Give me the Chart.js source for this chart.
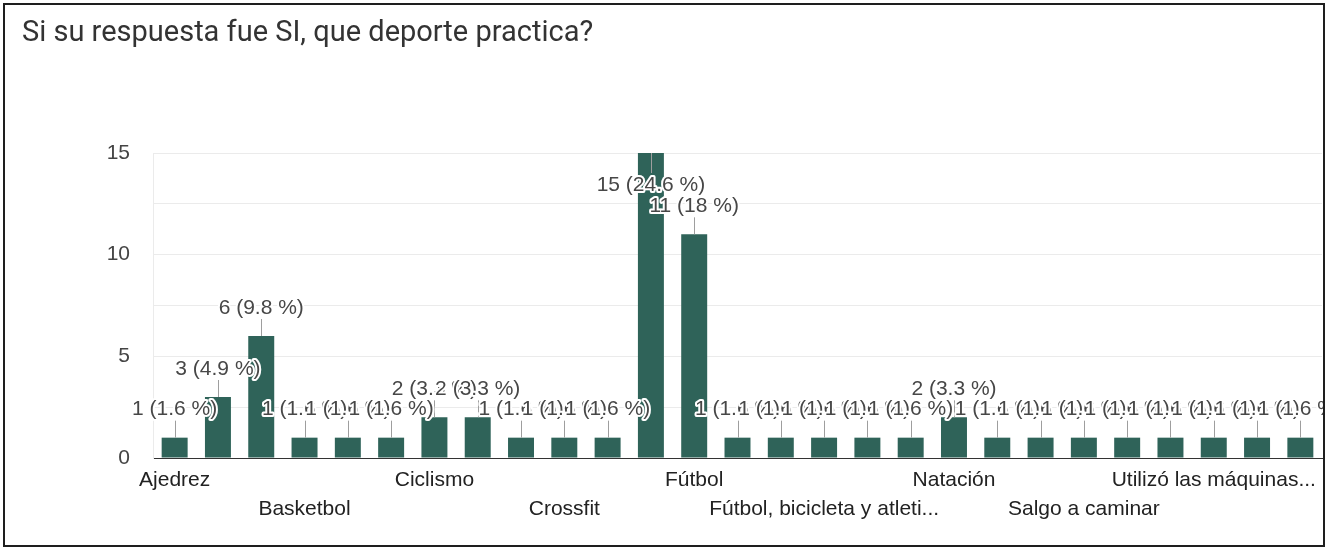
<!DOCTYPE html>
<html>
<head>
<meta charset="utf-8">
<script src="https://cdn.jsdelivr.net/npm/chart.js"></script>
<style>
  html, body { margin: 0; padding: 0; background: #fff; }
  #wrap { position: relative; width: 1327px; height: 550px; overflow: hidden; }
  #myChart { position: absolute; left: 0; top: 0; }
  #title { position: absolute; left: 22px; top: 17px; font-family: Roboto, sans-serif; font-size: 29px; line-height: 29px; color: #333333; white-space: nowrap; }
  #frame { position: absolute; left: 3px; top: 3px; width: 1318px; height: 540px; border: 2px solid #1e1e1e; pointer-events: none; }
</style>
</head>
<body>
<div id="wrap">
  <canvas id="myChart" width="1327" height="550"></canvas>
  <div id="title">Si su respuesta fue SI, que deporte practica?</div>
  <div id="frame"></div>
</div>
<script>
var categories = [
    'Ajedrez', 'Atletismo', 'Baloncesto', 'Basketbol', 'Bicicleta', 'Boxeo',
    'Ciclismo', 'Correr', 'Correr y nadar', 'Crossfit', 'Danza', 'Futbol',
    'Fútbol', 'Fútbol y básquet', 'Fútbol y natación', 'Fútbol, bicicleta y atleti...',
    'Gimnasio', 'Karate', 'Natación', 'Patinaje', 'Running', 'Salgo a caminar',
    'Tenis', 'Trotar', 'Utilizó las máquinas...', 'Voleibol', 'Yoga'
];
var counts = [1, 3, 6, 1, 1, 1, 2, 2, 1, 1, 1, 15, 11, 1, 1, 1, 1, 1, 2, 1, 1, 1, 1, 1, 1, 1, 1];
var yTicks = [0, 5, 10, 15];

var total = counts.reduce(function (a, b) { return a + b; }, 0);

// value labels with leader lines, drawn over the bars like the forms chart
var barLabels = {
    id: 'barLabels',
    afterDatasetsDraw: function (chart) {
        var c = chart.ctx;
        var area = chart.chartArea;
        var meta = chart.getDatasetMeta(0);
        var items = meta.data.map(function (bar, i) {
            var v = counts[i];
            var pct = Math.round(v / total * 1000) / 10;
            var above = bar.y - 48 > area.top;
            var ly = above ? bar.y - 28 : bar.y + 32;
            return { x: bar.x, top: bar.y, ly: ly, above: above, text: v + ' (' + pct + ' %)' };
        });
        c.save();
        c.beginPath();
        c.rect(0, 0, 1323, 550);
        c.clip();
        // leader lines
        items.forEach(function (it) {
            var x = Math.round(it.x) + 0.5;
            var y2 = it.above ? it.ly + 11 : it.ly - 12;
            c.strokeStyle = '#9e9e9e';
            c.lineWidth = 1;
            c.beginPath();
            c.moveTo(x, it.top);
            c.lineTo(x, y2);
            c.stroke();
        });
        c.font = '21px "Liberation Sans", Arial, sans-serif';
        c.textAlign = 'center';
        c.textBaseline = 'middle';
        c.lineJoin = 'round';
        items.forEach(function (it) {
            c.strokeStyle = '#ffffff';
            c.lineWidth = 4;
            c.strokeText(it.text, it.x, it.ly);
            c.fillStyle = '#474747';
            c.fillText(it.text, it.x, it.ly);
        });
        c.restore();
    }
};

var ctx = document.getElementById('myChart').getContext('2d');

var chart = new Chart(ctx, {
    type: 'bar',
    data: {
        labels: categories,
        datasets: [{
            data: counts,
            backgroundColor: '#2f6359',
            borderWidth: 0,
            barPercentage: 0.6,
            categoryPercentage: 1.0
        }]
    },
    options: {
        responsive: false,
        animation: false,
        layout: { padding: { top: 153, right: 5, bottom: 22, left: 0 } },
        plugins: {
            legend: { display: false },
            tooltip: { enabled: false }
        },
        scales: {
            x: {
                grid: { display: false, drawTicks: false },
                border: { display: true, color: '#333333', width: 1 },
                ticks: {
                    autoSkip: false,
                    maxRotation: 0,
                    minRotation: 0,
                    padding: 8,
                    color: '#222222',
                    font: { family: '"Liberation Sans", Arial, sans-serif', size: 21, lineHeight: 1.38 },
                    callback: function (val, i) {
                        if (i % 3 !== 0) return '';
                        return (i % 6 === 0) ? categories[i] : ['', categories[i]];
                    }
                },
                afterFit: function (scale) { scale.height = 70; }
            },
            y: {
                min: 0,
                max: 15,
                grid: {
                    drawTicks: false,
                    color: function (c) { return c.tick && c.tick.value === 0 ? '#333333' : '#ebebeb'; }
                },
                border: { display: true, color: '#ebebeb' },
                ticks: {
                    stepSize: 2.5,
                    padding: 23,
                    color: '#444444',
                    font: { family: '"Liberation Sans", Arial, sans-serif', size: 21 },
                    callback: function (v) { return yTicks.indexOf(v) >= 0 ? v : ''; }
                },
                afterFit: function (scale) { scale.width = 153; }
            }
        }
    },
    plugins: [barLabels]
});
</script>
</body>
</html>
